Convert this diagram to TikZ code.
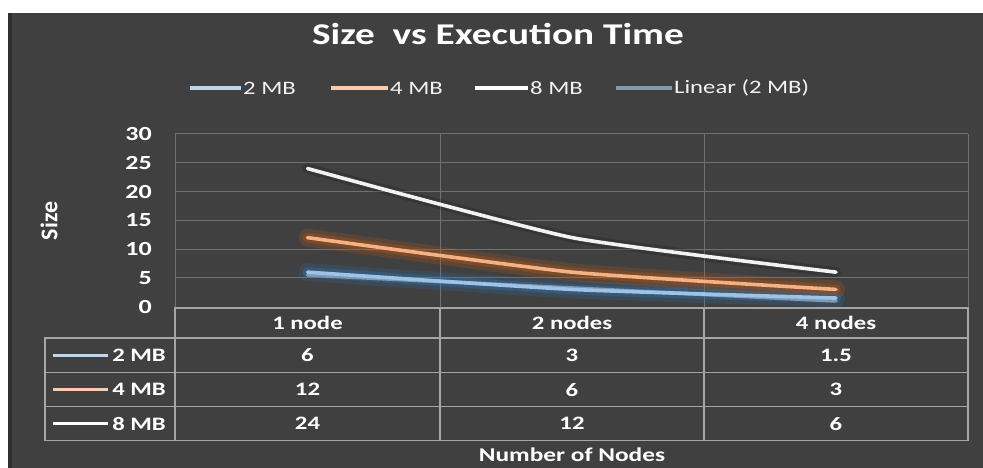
\documentclass[tikz,border=0pt]{standalone}
\usepackage{fontspec}
\setmainfont{Carlito}[FakeStretch=1.3]
\newfontfamily\uprightlabel{Carlito}
\definecolor{panel}{HTML}{404040}
\definecolor{gridc}{HTML}{707070}
\definecolor{tablec}{HTML}{A6A6A6}
\definecolor{ser2}{HTML}{9DC3E6}
\definecolor{ser2glow}{HTML}{2E75B6}
\definecolor{ser4}{HTML}{F4B183}
\definecolor{ser4glow}{HTML}{C55A11}
\definecolor{ser8}{HTML}{F2F2F2}
\definecolor{trend}{HTML}{8497B0}
\definecolor{key2}{HTML}{BDD7EE}
\definecolor{key4}{HTML}{F8CBAD}
\tikzset{
  txt/.style={text=white, inner sep=0pt, font=\bfseries\fontsize{19}{19}\selectfont},
  legtxt/.style={text=ser8, inner sep=0pt, anchor=west, font=\fontsize{19}{19}\selectfont},
  ticktxt/.style={text=white, inner sep=0pt, anchor=east, font=\bfseries\fontsize{20}{20}\selectfont},
  keyline/.style={line width=3.2pt},
  gridline/.style={gridc, line width=1pt},
  tableline/.style={tablec, line width=1.4pt},
  seriesline/.style={line width=3.6pt, line cap=round, line join=round},
}
\begin{document}
\begin{tikzpicture}[x=1pt, y=-1pt]
\useasboundingbox (0,0) rectangle (983,468);
\fill[white] (0,0) rectangle (983,468);
\fill[panel] (8,13) rectangle (983,468);
\fill[black, opacity=0.25] (8,13) rectangle (12,468);

% title
\node[text=white, inner sep=0pt, font=\bfseries\fontsize{30.2}{30.2}\selectfont] (title) at (498,34) {Size~~vs Execution Time};

% legend
\coordinate (la1) at (190,88); \coordinate (lb1) at (241,88);
\coordinate (la2) at (331,88); \coordinate (lb2) at (388,88);
\coordinate (la3) at (475,88); \coordinate (lb3) at (528,88);
\coordinate (la4) at (616,88); \coordinate (lb4) at (672,88);
\draw[keyline, key2] (la1) -- (lb1);
\draw[keyline, key4] (la2) -- (lb2);
\draw[keyline, white] (la3) -- (lb3);
\draw[keyline, trend] (la4) -- (lb4);
\node[legtxt] (leg1) at (243,88) {2 MB};
\node[legtxt] (leg2) at (390,88) {4 MB};
\node[legtxt] (leg3) at (530,88) {8 MB};
\node[legtxt] (leg4) at (674,88) {Linear (2 MB)};

% plot area: value axis from 0 (y=306.7) up to 30 (y=134)
\begin{scope}[shift={(0,306.7)}, y=5.757pt]
  \foreach \v in {5,10,...,30} \draw[gridline] (175,\v) -- (968,\v);
  \foreach \xx in {175,440,704,968} \draw[gridline] (\xx,0) -- (\xx,30);
  \foreach \v in {0,5,...,30} \node[ticktxt] (tick\v) at (152,\v) {\v};

  % glow under the series
  \draw[ser2glow, line width=18pt, opacity=0.2, line cap=round] plot[smooth, tension=0.3] coordinates {(307.5,6) (572,3) (836,1.5)};
  \draw[ser2glow, line width=10pt, opacity=0.35, line cap=round] plot[smooth, tension=0.3] coordinates {(307.5,6) (572,3) (836,1.5)};
  \draw[ser4glow, line width=18pt, opacity=0.2, line cap=round] plot[smooth, tension=0.3] coordinates {(307.5,12) (572,6) (836,3)};
  \draw[ser4glow, line width=10pt, opacity=0.3, line cap=round] plot[smooth, tension=0.3] coordinates {(307.5,12) (572,6) (836,3)};
  \draw[black, line width=10pt, opacity=0.15, line cap=round] plot[smooth, tension=0.3] coordinates {(307.5,24) (572,12) (836,6)};

  % linear trend of the 2 MB series
  \draw[seriesline, trend] (307.5,5.5) -- (836,1.0);
  % series
  \draw[seriesline, ser2] plot[smooth, tension=0.3] coordinates {(307.5,6) (572,3) (836,1.5)};
  \draw[seriesline, ser4] plot[smooth, tension=0.3] coordinates {(307.5,12) (572,6) (836,3)};
  \draw[seriesline, ser8] plot[smooth, tension=0.3] coordinates {(307.5,24) (572,12) (836,6)};
\end{scope}

% data table
\draw[tableline] (175,308) rectangle (968,440.7);
\draw[tableline] (45,338) rectangle (175,440.7);
\draw[tableline] (45,338) -- (968,338);
\draw[tableline] (45,372.7) -- (968,372.7);
\draw[tableline] (45,406.7) -- (968,406.7);
\draw[tableline] (440,308) -- (440,440.7);
\draw[tableline] (704,308) -- (704,440.7);

\node[txt] (h1) at (307.5,323) {1 node};
\node[txt] (h2) at (572,323) {2 nodes};
\node[txt] (h4) at (836,323) {4 nodes};

\coordinate (ka1) at (53,355.5); \coordinate (kb1) at (108,355.5);
\coordinate (ka2) at (53,389.7); \coordinate (kb2) at (108,389.7);
\coordinate (ka3) at (53,423.7); \coordinate (kb3) at (108,423.7);
\draw[keyline, key2] (ka1) -- (kb1);
\draw[keyline, key4] (ka2) -- (kb2);
\draw[keyline, white] (ka3) -- (kb3);
\node[txt, anchor=east] (r1) at (166,355.5) {2 MB};
\node[txt, anchor=east] (r2) at (166,389.7) {4 MB};
\node[txt, anchor=east] (r3) at (166,423.7) {8 MB};

\node[txt] (c11) at (307.5,355.5) {6};
\node[txt] (c12) at (572,355.5) {3};
\node[txt] (c14) at (836,355.5) {1.5};
\node[txt] (c21) at (307.5,389.7) {12};
\node[txt] (c22) at (572,389.7) {6};
\node[txt] (c24) at (836,389.7) {3};
\node[txt] (c31) at (307.5,423.7) {24};
\node[txt] (c32) at (572,423.7) {12};
\node[txt] (c34) at (836,423.7) {6};

% axis titles
\node[txt, font=\bfseries\fontsize{19.5}{19.5}\selectfont] (xtitle) at (572,455) {Number of Nodes};
\node[txt, rotate=90, font=\uprightlabel\bfseries\fontsize{24}{24}\selectfont] (ytitle) at (49,221) {Size};
\end{tikzpicture}
\end{document}
